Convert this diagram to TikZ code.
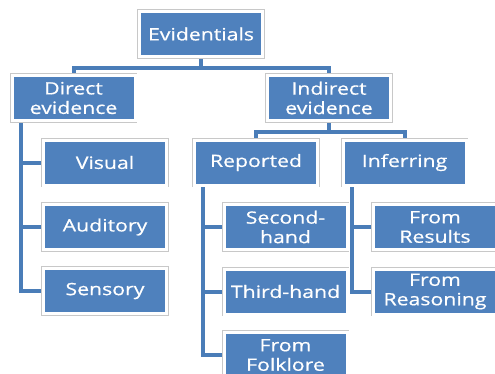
\documentclass[tikz,border=0pt]{standalone}
\usepackage{fontspec}
\setmainfont{Open Sans}[FakeStretch=1.25,FakeBold=0.6]
\usetikzlibrary{backgrounds,calc}
\definecolor{boxblue}{HTML}{4F81BD}
\definecolor{lineblue}{HTML}{4A7DB8}
\definecolor{rimgray}{HTML}{C8C8C8}
\tikzset{
  ebox/.style={rectangle, fill=boxblue, draw=white, line width=3pt,
    preaction={draw=rimgray, line width=4.6pt},
    minimum width=123pt, minimum height=45pt, inner sep=0pt,
    text=white, align=center, font=\fontsize{17}{19.5}\selectfont},
  conn/.style={draw=lineblue, line width=4pt}
}
\begin{document}
\begin{tikzpicture}[x=1pt,y=-1pt]
\useasboundingbox (0,0) rectangle (495,373);
\clip (0,0) rectangle (495,373);
\node[ebox] (ev) at (201,34) {Evidentials};
\node[ebox] (dir) at (73.5,98) {Direct\\evidence};
\node[ebox] (ind) at (329,98) {Indirect\\evidence};
\node[ebox] (vis) at (105,162.5) {Visual};
\node[ebox] (aud) at (105,227) {Auditory};
\node[ebox] (sen) at (105,291) {Sensory};
\node[ebox] (rep) at (256,162.5) {Reported};
\node[ebox] (inf) at (404.5,162.5) {Inferring};
\node[ebox] (sec) at (285.5,227) {Second-\\hand};
\node[ebox] (thi) at (285.5,291.5) {Third-hand};
\node[ebox] (fol) at (285.5,355) {From\\Folklore};
\node[ebox] (res) at (435,227) {From\\Results};
\node[ebox] (rea) at (435,291.5) {From\\Reasoning};
\begin{pgfonlayer}{background}
\draw[conn] (ev.south) -- ++(0,10) coordinate (evj);
\draw[conn] (evj) -| (dir.north);
\draw[conn] (evj) -| (ind.north);
\draw[conn] (ind.south) -- ++(0,10) coordinate (indj);
\draw[conn] (indj) -| (rep.north);
\draw[conn] (indj) -| (inf.north);
\draw[conn] ([xshift=10pt]dir.south west) |- (vis.west);
\draw[conn] ([xshift=10pt]dir.south west) |- (aud.west);
\draw[conn] ([xshift=10pt]dir.south west) |- (sen.west);
\draw[conn] ([xshift=10pt]rep.south west) |- (sec.west);
\draw[conn] ([xshift=10pt]rep.south west) |- (thi.west);
\draw[conn] ([xshift=10pt]rep.south west) |- (fol.west);
\draw[conn] ([xshift=10pt]inf.south west) |- (res.west);
\draw[conn] ([xshift=10pt]inf.south west) |- (rea.west);
\end{pgfonlayer}
\end{tikzpicture}
\end{document}
